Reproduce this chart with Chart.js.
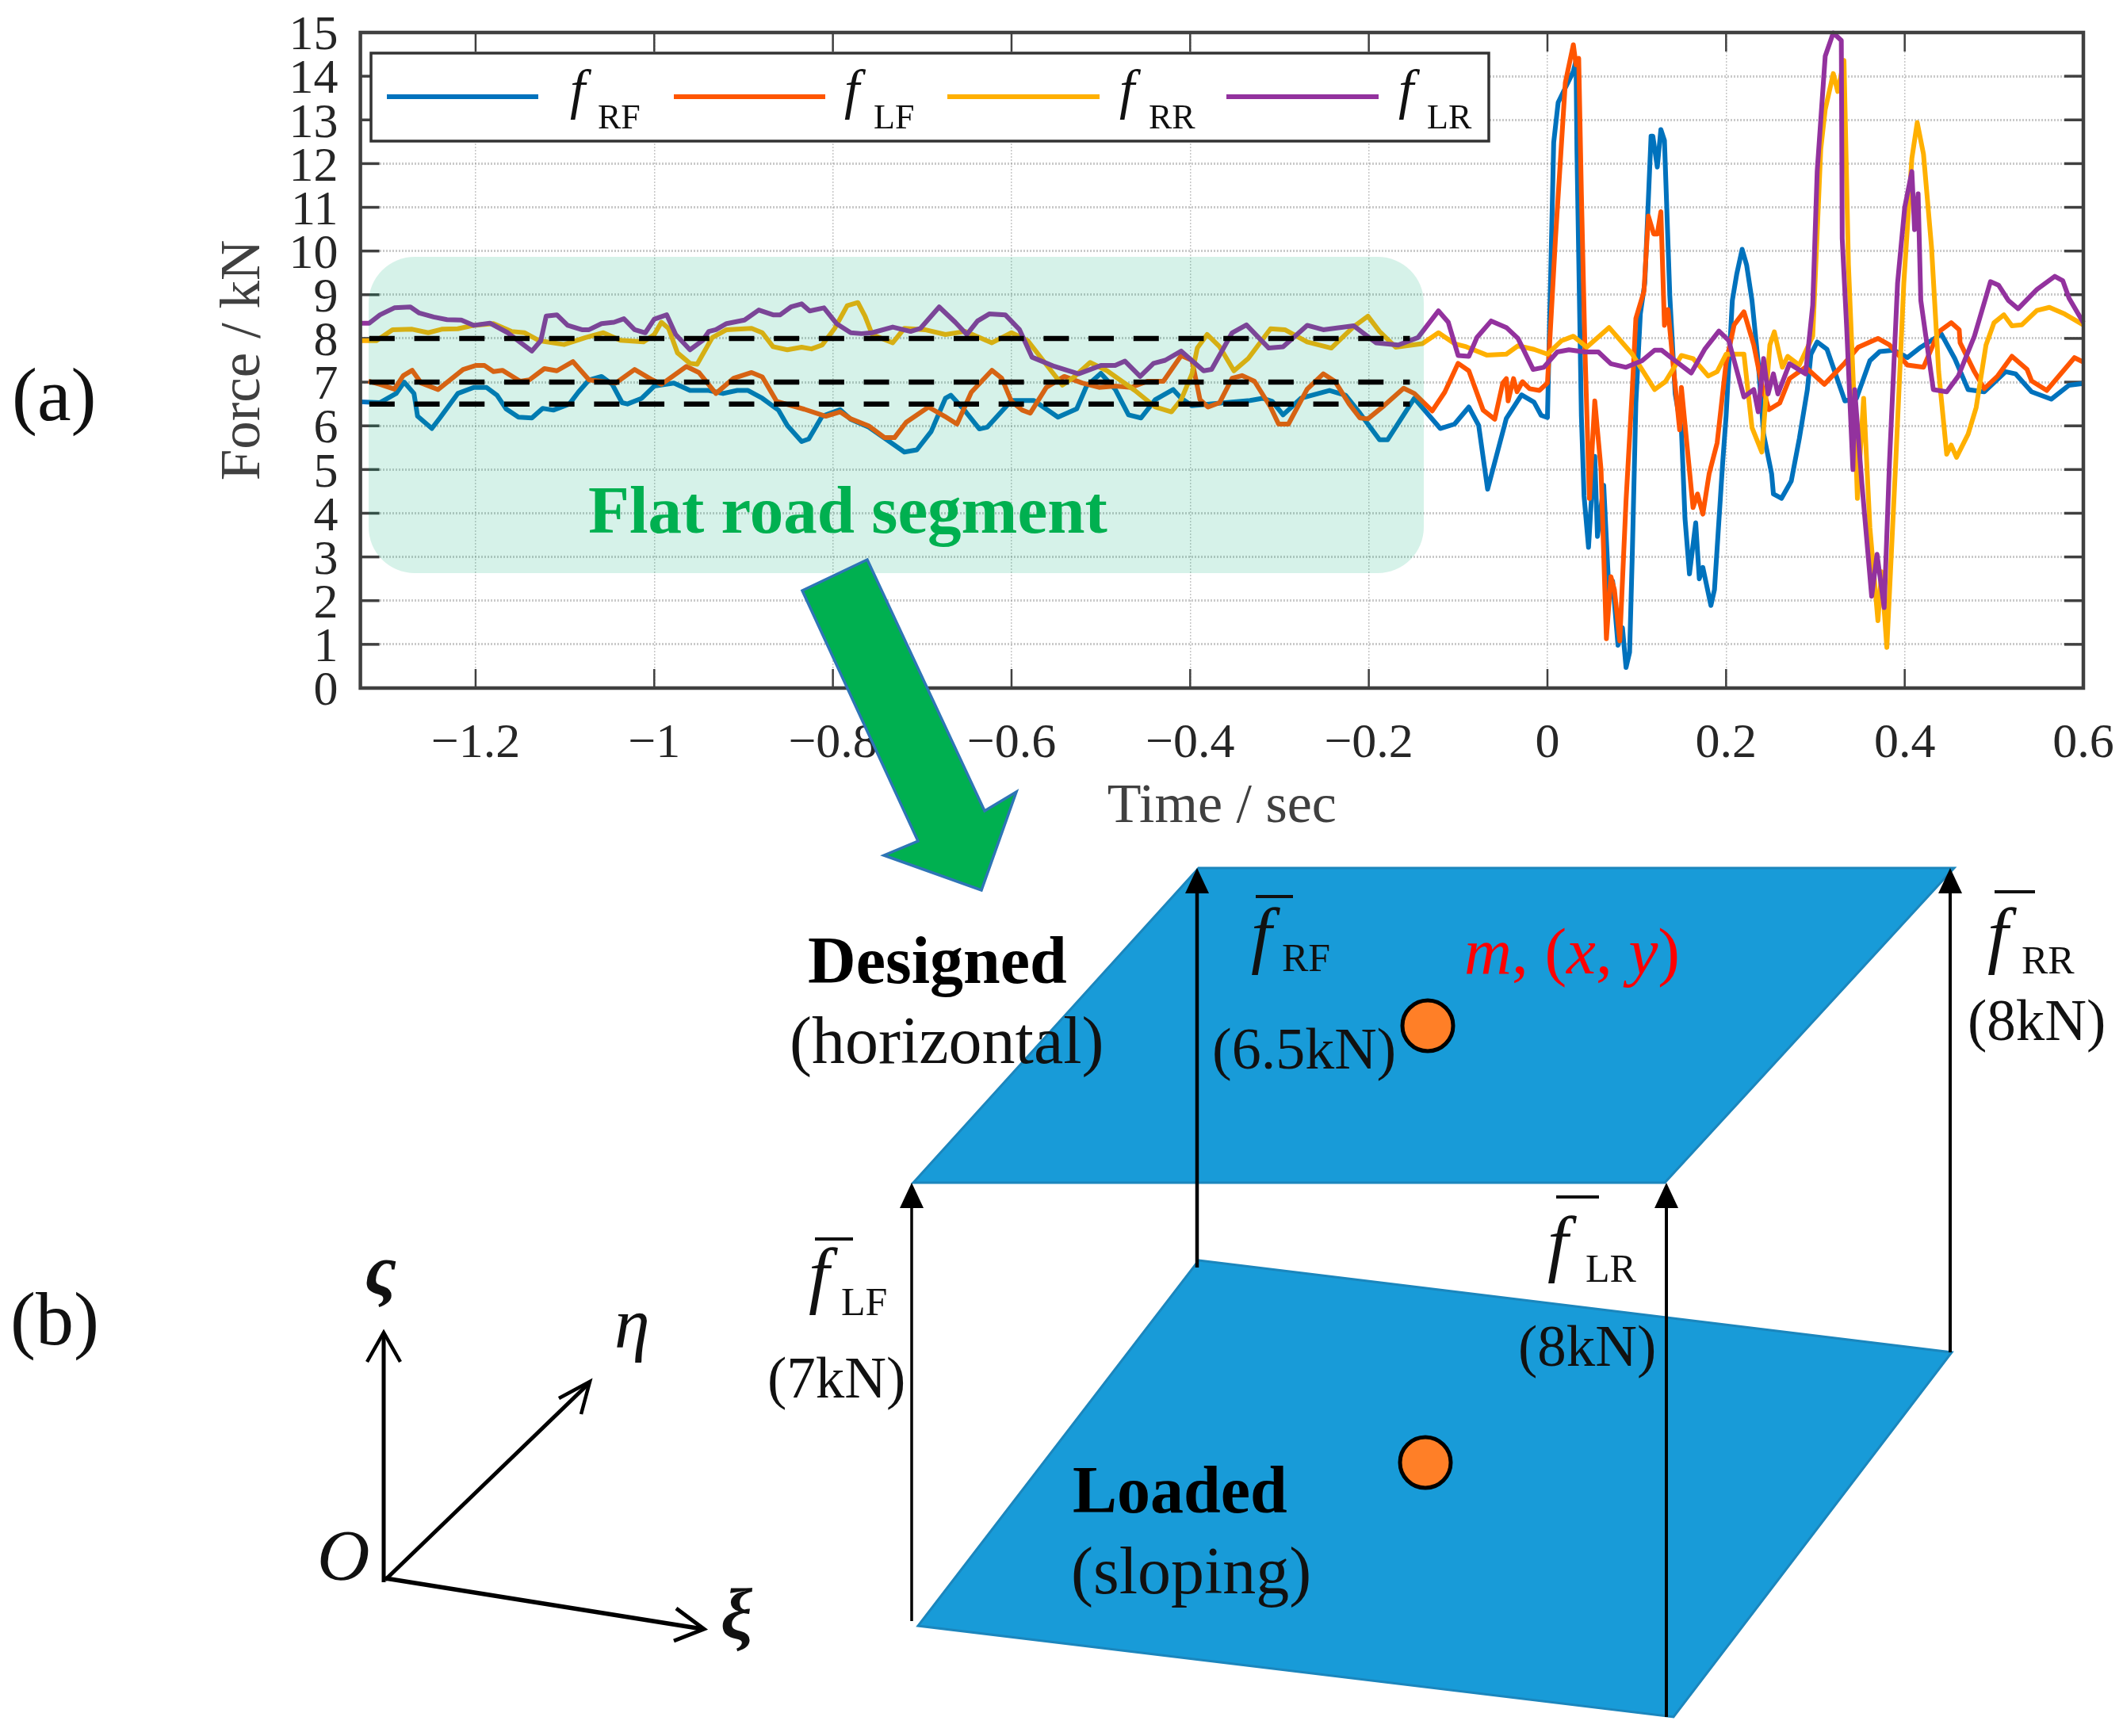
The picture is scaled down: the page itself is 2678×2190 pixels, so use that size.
<!DOCTYPE html>
<html><head><meta charset="utf-8">
<script src="https://cdn.jsdelivr.net/npm/chart.js@4/dist/chart.umd.min.js"></script>
<style>html,body{margin:0;padding:0;background:#fff}canvas{display:block}</style>
</head><body><canvas id="c" width="2678" height="2190"></canvas>
<script>
const yTicks=[0,1,2,3,4,5,6,7,8,9,10,11,12,13,14,15];
const xTicks=[-1.2,-1,-0.8,-0.6,-0.4,-0.2,0,0.2,0.4,0.6];
const dashLevels=[8,7,6.5];
const dashStart=-1.319, dashEnd=-0.154;

const timeRF=[-1.329,-1.307,-1.289,-1.28,-1.269,-1.265,-1.249,-1.24,-1.22,-1.202,-1.188,-1.176,-1.166,-1.152,-1.137,-1.125,-1.113,-1.095,-1.085,-1.073,-1.059,-1.047,-1.036,-1.03,-1.014,-1,-0.978,-0.96,-0.939,-0.923,-0.907,-0.895,-0.879,-0.861,-0.851,-0.835,-0.827,-0.812,-0.792,-0.78,-0.76,-0.738,-0.72,-0.706,-0.69,-0.674,-0.668,-0.654,-0.636,-0.627,-0.6,-0.575,-0.548,-0.527,-0.516,-0.5,-0.484,-0.469,-0.455,-0.439,-0.419,-0.41,-0.398,-0.371,-0.333,-0.319,-0.308,-0.296,-0.276,-0.244,-0.226,-0.21,-0.188,-0.179,-0.149,-0.12,-0.104,-0.088,-0.077,-0.067,-0.046,-0.029,-0.015,-0.007,0,0.007,0.012,0.029,0.032,0.033,0.038,0.041,0.046,0.05,0.053,0.056,0.063,0.069,0.073,0.079,0.084,0.088,0.092,0.095,0.099,0.104,0.109,0.116,0.118,0.123,0.127,0.131,0.137,0.143,0.15,0.154,0.159,0.166,0.17,0.174,0.183,0.187,0.191,0.196,0.2,0.207,0.212,0.218,0.223,0.229,0.236,0.242,0.251,0.253,0.262,0.273,0.282,0.291,0.295,0.302,0.313,0.333,0.346,0.361,0.372,0.388,0.403,0.418,0.441,0.456,0.471,0.489,0.513,0.524,0.542,0.564,0.584,0.6];
const forceRF=[6.55,6.53,6.74,7,6.74,6.22,5.94,6.18,6.74,6.88,6.88,6.7,6.39,6.2,6.18,6.4,6.36,6.5,6.77,7.05,7.13,6.95,6.53,6.5,6.63,6.91,6.98,6.81,6.81,6.74,6.81,6.81,6.63,6.36,6.01,5.64,5.7,6.22,6.37,6.15,5.97,5.66,5.4,5.45,5.87,6.63,6.7,6.39,5.93,5.97,6.58,6.58,6.2,6.39,6.91,7.2,6.84,6.25,6.18,6.6,6.83,6.63,6.46,6.51,6.58,6.63,6.56,6.25,6.63,6.81,6.7,6.29,5.68,5.68,6.63,5.94,6.04,6.43,6.01,4.55,6.17,6.71,6.54,6.24,6.19,12.48,13.4,14.11,14.36,12.33,6.22,4.39,3.22,4.59,5.3,3.47,4.64,2.15,2.45,0.98,1.38,0.47,0.82,3.06,6.52,8.56,9.27,12.63,12.63,11.92,12.78,12.53,8.97,6.73,5.91,3.88,2.61,3.78,2.5,2.76,1.89,2.25,3.52,5.1,6.22,8.87,9.48,10.04,9.68,8.87,7.44,5.81,4.9,4.44,4.34,4.74,5.71,6.83,7.64,7.92,7.75,6.57,6.63,7.49,7.7,7.73,7.56,7.8,8.1,7.54,6.83,6.78,7.24,7.19,6.78,6.61,6.93,6.97];

const timeLF=[-1.32,-1.307,-1.291,-1.281,-1.271,-1.261,-1.242,-1.214,-1.2,-1.19,-1.18,-1.17,-1.15,-1.14,-1.123,-1.109,-1.091,-1.073,-1.043,-1.022,-1.002,-0.992,-0.964,-0.95,-0.931,-0.911,-0.891,-0.879,-0.863,-0.832,-0.808,-0.792,-0.78,-0.76,-0.742,-0.731,-0.718,-0.693,-0.675,-0.661,-0.645,-0.622,-0.611,-0.6,-0.588,-0.579,-0.561,-0.541,-0.521,-0.502,-0.484,-0.466,-0.448,-0.43,-0.41,-0.398,-0.389,-0.38,-0.367,-0.353,-0.342,-0.328,-0.31,-0.301,-0.29,-0.269,-0.251,-0.238,-0.222,-0.21,-0.201,-0.183,-0.161,-0.149,-0.129,-0.115,-0.1,-0.088,-0.072,-0.059,-0.05,-0.046,-0.044,-0.038,-0.034,-0.028,-0.02,-0.009,0,0.009,0.02,0.029,0.032,0.035,0.038,0.042,0.047,0.053,0.06,0.066,0.071,0.075,0.081,0.088,0.095,0.099,0.108,0.113,0.119,0.123,0.127,0.131,0.135,0.141,0.148,0.15,0.163,0.168,0.174,0.181,0.19,0.2,0.209,0.22,0.231,0.24,0.248,0.26,0.271,0.289,0.31,0.333,0.348,0.37,0.383,0.403,0.421,0.438,0.452,0.461,0.462,0.478,0.489,0.504,0.52,0.537,0.542,0.559,0.59,0.6];
const forceLF=[7.02,6.95,6.84,7.15,7.27,6.98,6.83,7.29,7.38,7.38,7.24,7.27,7.02,7.05,7.31,7.26,7.47,7.05,6.98,7.29,7.05,6.95,7.36,7.22,6.74,7.09,7.22,7.12,6.56,6.38,6.22,6.32,6.16,6,5.73,5.73,6.08,6.43,6.22,6.04,6.77,7.27,7.09,6.56,6.36,6.29,6.88,7.13,6.98,6.88,6.91,6.88,7.02,7.02,7.61,7.5,6.6,6.43,6.53,7.09,7.15,7.02,6.43,6.04,6.04,6.84,7.19,7.02,6.5,6.18,6.16,6.46,6.86,6.74,6.34,6.77,7.43,7.26,6.36,6.15,6.98,7.08,6.57,7.08,6.78,7.01,6.85,6.81,6.98,10.29,13.85,14.72,14.26,14.41,11.31,7.74,4.34,6.57,5,1.13,2.55,2.25,1.08,4.29,6.83,8.46,9.07,10.8,10.39,10.39,10.9,8.3,8.66,7.34,5.91,6.88,4.13,4.44,3.98,4.9,5.61,7.44,8.31,8.61,7.85,6.93,6.37,6.52,7.08,7.34,6.95,7.44,7.8,8,7.85,7.39,7.34,8.15,8.36,8.2,7.9,7.24,6.85,7.14,7.59,7.29,7.03,6.81,7.56,7.46];

const timeRR=[-1.329,-1.311,-1.293,-1.271,-1.253,-1.238,-1.22,-1.202,-1.18,-1.16,-1.145,-1.129,-1.101,-1.077,-1.057,-1.038,-1.012,-1,-0.992,-0.984,-0.974,-0.96,-0.952,-0.935,-0.919,-0.891,-0.879,-0.867,-0.851,-0.835,-0.824,-0.812,-0.798,-0.784,-0.772,-0.764,-0.756,-0.733,-0.72,-0.697,-0.674,-0.652,-0.622,-0.6,-0.582,-0.561,-0.543,-0.53,-0.512,-0.493,-0.462,-0.439,-0.421,-0.41,-0.398,-0.392,-0.381,-0.367,-0.351,-0.335,-0.31,-0.294,-0.269,-0.242,-0.217,-0.201,-0.188,-0.17,-0.14,-0.122,-0.104,-0.091,-0.068,-0.046,-0.033,-0.015,0,0.016,0.029,0.044,0.069,0.095,0.12,0.132,0.15,0.163,0.18,0.19,0.2,0.22,0.229,0.24,0.249,0.254,0.263,0.269,0.282,0.297,0.306,0.311,0.32,0.325,0.332,0.337,0.344,0.347,0.354,0.361,0.37,0.374,0.38,0.39,0.399,0.408,0.414,0.421,0.43,0.438,0.447,0.452,0.458,0.471,0.48,0.491,0.5,0.511,0.52,0.531,0.548,0.562,0.579,0.6];
const forceRR=[7.95,7.95,8.2,8.21,8.13,8.21,8.22,8.3,8.34,8.16,8.13,7.95,7.86,8.02,8.13,7.96,7.92,8.09,8.37,8.23,7.67,7.43,7.41,8.02,8.2,8.23,8.13,7.81,7.74,7.8,7.76,7.85,8.23,8.75,8.82,8.51,8.09,7.9,8.23,8.2,8.09,8.16,7.9,8.13,7.95,7.4,6.93,7.12,7.45,7.26,6.81,6.43,6.32,6.6,7.19,7.78,8.09,7.81,7.26,7.54,8.22,8.2,7.92,7.78,8.27,8.51,8.16,7.8,7.88,8.13,7.88,7.81,7.62,7.64,7.83,7.75,7.64,7.95,8.05,7.8,8.25,7.64,6.83,7.01,7.61,7.54,7.14,7.24,7.64,7.64,5.96,5.4,7.85,8.15,7.34,7.59,7.39,8.05,12.33,13.24,14.06,13.65,14.36,9.68,6.22,4.34,6.63,3.67,1.54,2.66,0.93,5.2,9.27,12.12,12.94,12.22,10.09,7.24,5.35,5.56,5.28,5.81,6.42,7.85,8.36,8.54,8.29,8.31,8.64,8.71,8.56,8.31];

const timeLR=[-1.329,-1.319,-1.307,-1.291,-1.273,-1.263,-1.247,-1.232,-1.216,-1.202,-1.184,-1.164,-1.148,-1.137,-1.127,-1.121,-1.109,-1.097,-1.081,-1.073,-1.059,-1.045,-1.034,-1.022,-1.01,-1,-0.986,-0.976,-0.96,-0.946,-0.939,-0.931,-0.919,-0.899,-0.883,-0.867,-0.859,-0.847,-0.835,-0.826,-0.81,-0.796,-0.78,-0.768,-0.756,-0.733,-0.713,-0.702,-0.681,-0.663,-0.65,-0.638,-0.625,-0.607,-0.591,-0.577,-0.552,-0.525,-0.5,-0.484,-0.473,-0.456,-0.441,-0.428,-0.41,-0.385,-0.376,-0.353,-0.337,-0.312,-0.296,-0.269,-0.251,-0.217,-0.192,-0.167,-0.145,-0.122,-0.111,-0.1,-0.088,-0.079,-0.063,-0.046,-0.033,-0.016,-0.004,0.011,0.024,0.042,0.057,0.071,0.088,0.106,0.12,0.128,0.143,0.161,0.176,0.192,0.203,0.22,0.231,0.236,0.242,0.247,0.253,0.258,0.271,0.289,0.297,0.302,0.311,0.32,0.329,0.33,0.335,0.342,0.344,0.352,0.363,0.369,0.377,0.383,0.392,0.4,0.408,0.411,0.415,0.418,0.432,0.447,0.46,0.478,0.496,0.505,0.516,0.527,0.548,0.568,0.577,0.584,0.6];
const forceLR=[8.35,8.35,8.54,8.7,8.72,8.58,8.49,8.43,8.42,8.3,8.35,8.13,7.88,7.71,7.95,8.51,8.54,8.3,8.2,8.2,8.34,8.37,8.45,8.2,8.13,8.44,8.54,8.09,7.74,7.95,8.16,8.2,8.34,8.42,8.65,8.54,8.54,8.72,8.79,8.63,8.7,8.34,8.13,8.11,8.13,8.26,8.16,8.23,8.72,8.37,8.09,8.4,8.56,8.54,8.2,7.57,7.36,7.19,7.38,7.38,7.48,7.13,7.43,7.5,7.71,7.26,7.29,8.13,8.31,7.78,7.81,8.3,8.2,8.29,7.9,7.85,8.02,8.63,8.37,7.61,7.59,8.02,8.4,8.25,8,7.29,7.34,7.69,7.74,7.69,7.69,7.42,7.34,7.49,7.73,7.73,7.49,7.21,7.75,8.17,7.95,6.66,6.83,6.32,7.54,6.73,7.19,6.73,7.42,7.19,8.76,11.82,14.46,14.99,14.82,10.29,8.25,5,6.83,4.69,2.1,3.06,1.84,5.2,9.27,11,11.82,10.49,11.31,8.87,6.83,6.78,7.14,8.05,9.3,9.22,8.87,8.68,9.12,9.42,9.32,8.92,8.36];

const zip=(xs,ys)=>xs.map((x,i)=>({x,y:ys[i]}));
const curve=(label,xs,ys,color,order)=>({label,data:zip(xs,ys),borderColor:color,backgroundColor:color,borderWidth:6,pointRadius:0,tension:0,borderJoinStyle:'round',showLine:true,order,clip:false});
const dashSet=(level,order)=>({label:'mean '+level,data:[{x:dashStart,y:level},{x:dashEnd,y:level}],borderColor:'#000',borderWidth:6.5,borderDash:[32,24.7],pointRadius:0,showLine:true,order,clip:false});

const SERIF='"Liberation Serif"';
function txt(c,s,x,y,font,color,align){c.font=font+' '+SERIF;c.fillStyle=color||'#111';c.textAlign=align||'left';c.textBaseline='alphabetic';c.fillText(s,x,y);}
function poly(c,pts,fill,stroke,w){c.beginPath();pts.forEach((p,i)=>i?c.lineTo(p[0],p[1]):c.moveTo(p[0],p[1]));c.closePath();if(fill){c.fillStyle=fill;c.fill();}if(stroke){c.strokeStyle=stroke;c.lineWidth=w;c.lineJoin='miter';c.stroke();}}
function seg(c,a,b,color,w){c.beginPath();c.moveTo(a[0],a[1]);c.lineTo(b[0],b[1]);c.strokeStyle=color;c.lineWidth=w;c.stroke();}
function upArrow(c,x,y0,y1,w){seg(c,[x,y0],[x,y1+25],'#000',w);poly(c,[[x,y1],[x-15,y1+32],[x+15,y1+32]],'#000');}
function openHead(c,tip,a,b,w){c.beginPath();c.moveTo(a[0],a[1]);c.lineTo(tip[0],tip[1]);c.lineTo(b[0],b[1]);c.strokeStyle='#000';c.lineWidth=w;c.stroke();}
function barF(c,fx,base,subx,subBase,sub,barL,barR,barY){
  txt(c,'f',fx-9,base+2,'italic 94px','#111');txt(c,sub,subx,subBase,'50px','#111');seg(c,[barL,barY],[barR,barY],'#111',4);
}
function legendEntry(c,x0,x1,color,fx,subx,sub){
  seg(c,[x0,122],[x1,122],color,6);
  txt(c,'f',fx-6,136,'italic 69px','#111');txt(c,sub,subx,162,'44px','#111');
}
const noPad=s=>{s.paddingLeft=0;s.paddingRight=0;s.paddingTop=0;s.paddingBottom=0;};

const overlay={id:'overlay',
  beforeDatasetsDraw(ch){
    const c=ch.ctx,a=ch.chartArea,sx=ch.scales.x,sy=ch.scales.y;c.save();
    yTicks.forEach(v=>{const p=sy.getPixelForValue(v);seg(c,[a.left,p],[a.left+24,p],'#404040',3.5);seg(c,[a.right-24,p],[a.right,p],'#404040',3.5);});
    xTicks.forEach(v=>{const p=sx.getPixelForValue(v);seg(c,[p,a.bottom],[p,a.bottom-24],'#404040',2.5);seg(c,[p,a.top],[p,a.top+24],'#404040',2.5);});
    c.restore();
  },
  afterDatasetDraw(ch,args){
    if(ch.data.datasets[args.index].label!=='fLR')return;
    const c=ch.ctx;c.save();c.beginPath();c.roundRect(465,324,1331,399,58);c.fillStyle='rgba(0,176,120,0.16)';c.fill();c.restore();
  },
  afterDatasetsDraw(ch){
    const c=ch.ctx,a=ch.chartArea;c.save();
    c.strokeStyle='#404040';c.lineWidth=4.5;c.strokeRect(a.left,a.top,a.right-a.left,a.bottom-a.top);
    c.fillStyle='#fff';c.fillRect(468,67,1410,111);c.strokeStyle='#333';c.lineWidth=3.5;c.strokeRect(468,67,1410,111);
    legendEntry(c,488,679,'#0072BD',725,754,'RF');
    legendEntry(c,850,1041,'#FF5500',1071,1102,'LF');
    legendEntry(c,1195,1387,'#FFB000',1418,1449,'RR');
    legendEntry(c,1547,1739,'#93329E',1770,1800,'LR');
    txt(c,'Flat road segment',742,672,'bold 85px','#00B050');
    txt(c,'(a)',15,530,'96px','#111');
    txt(c,'(b)',13,1696,'96px','#111');
    poly(c,[[1094,706],[1012,745],[1158,1061],[1115,1079],[1238,1123],[1282,999],[1242,1023]],'#00B050','#2E75B6',3.5);
    poly(c,[[1512,1095],[2465,1095],[2100,1492],[1152,1492]],'#189BD8','#1B86BD',3);
    poly(c,[[1512,1590],[2462,1706],[2111,2166],[1158,2051]],'#189BD8','#1B86BD',3);
    upArrow(c,1150,2045,1492,3.5);
    upArrow(c,1510,1599,1095,4.5);
    upArrow(c,2460,1706,1095,4);
    upArrow(c,2102,2166,1492,4);
    [[1801,1294],[1798,1845]].forEach(p=>{c.beginPath();c.arc(p[0],p[1],32,0,Math.PI*2);c.fillStyle='#FF7F27';c.fill();c.strokeStyle='#000';c.lineWidth=5;c.stroke();});
    txt(c,'Designed',1019,1240,'bold 84px','#000');
    txt(c,'(horizontal)',996,1341,'84px','#111');
    txt(c,'Loaded',1353,1908,'bold 84px','#000');
    txt(c,'(sloping)',1351,2010,'84px','#111');
    barF(c,1587,1208,1617,1225,'RF',1584,1631,1131);
    barF(c,2516,1208,2550,1228,'RR',2516,2567,1125);
    barF(c,1029,1637,1061,1659,'LF',1028,1076,1563);
    barF(c,1961,1597,2000,1617,'LR',1963,2017,1510);
    txt(c,'(6.5kN)',1529,1348,'74px','#111');
    txt(c,'(8kN)',2482,1312,'73px','#111');
    txt(c,'(7kN)',968,1763,'73px','#111');
    txt(c,'(8kN)',1915,1723,'73px','#111');
    const red='#FF0000';let x=1847;
    [['m','italic'],[',',''],[' ',''],['(',''],['x','italic'],[',',''],[' ',''],['y','italic'],[')','']].forEach(([s,st])=>{
      const f=(st?st+' ':'')+'83px';txt(c,s,x,1228,f,red);x+=c.measureText(s).width;});
    seg(c,[484,1996],[484,1684],'#000',5);openHead(c,[484,1681],[463,1718],[505,1718],4.5);
    seg(c,[486,1993],[743,1745],'#000',5);openHead(c,[744,1743],[705,1764],[733,1784],4.5);
    seg(c,[486,1991],[886,2055],'#000',5.5);openHead(c,[888,2055],[853,2029],[850,2070],5);
    txt(c,'O',400,1993,'italic 92px','#111');
    txt(c,'\u03C2',460,1633,'italic bold 90px','#111');
    txt(c,'\u03B7',775,1700,'italic 90px','#111');
    txt(c,'\u03BE',909,2067,'italic bold 90px','#111');
    c.restore();
  }
};

new Chart(document.getElementById('c'),{
  type:'scatter',
  data:{datasets:[
    curve('fRF',timeRF,forceRF,'#0072BD',7),
    curve('fLF',timeLF,forceLF,'#FF5500',6),
    curve('fRR',timeRR,forceRR,'#FFB000',5),
    curve('fLR',timeLR,forceLR,'#93329E',4),
    dashSet(dashLevels[0],3),dashSet(dashLevels[1],2),dashSet(dashLevels[2],1)
  ]},
  options:{
    responsive:false,animation:false,devicePixelRatio:1,
    layout:{padding:{left:270,top:41,right:50,bottom:1132}},
    plugins:{legend:{display:false},tooltip:{enabled:false},title:{display:false}},
    scales:{
      x:{type:'linear',min:-1.329,max:0.6,
        afterFit:s=>{s.height=190;noPad(s);},
        afterBuildTicks:s=>{s.ticks=xTicks.map(v=>({value:v}));},
        grid:{color:'rgba(130,130,130,0.45)',lineWidth:1.5,drawTicks:false},
        border:{display:false,dash:[2,2]},
        ticks:{padding:34,autoSkip:false,maxRotation:0,color:'#262626',font:{family:SERIF,size:62},
          callback:v=>String(v).replace('-','\u2212')},
        title:{display:true,text:'Time / sec',color:'#404040',font:{family:SERIF,size:70,lineHeight:1},padding:{top:0,bottom:4}}
      },
      y:{type:'linear',min:0,max:15,
        afterFit:s=>{s.width=184.6;noPad(s);},
        afterBuildTicks:s=>{s.ticks=yTicks.map(v=>({value:v}));},
        grid:{color:'rgba(150,150,150,0.5)',lineWidth:3,drawTicks:false},
        border:{display:false,dash:[2,2]},
        ticks:{padding:28,labelOffset:5,autoSkip:false,color:'#262626',font:{family:SERIF,size:62}},
        title:{display:true,text:'Force / kN',color:'#404040',font:{family:SERIF,size:71,lineHeight:1},padding:{top:3,bottom:0}}
      }
    }
  },
  plugins:[overlay]
});
</script></body></html>
